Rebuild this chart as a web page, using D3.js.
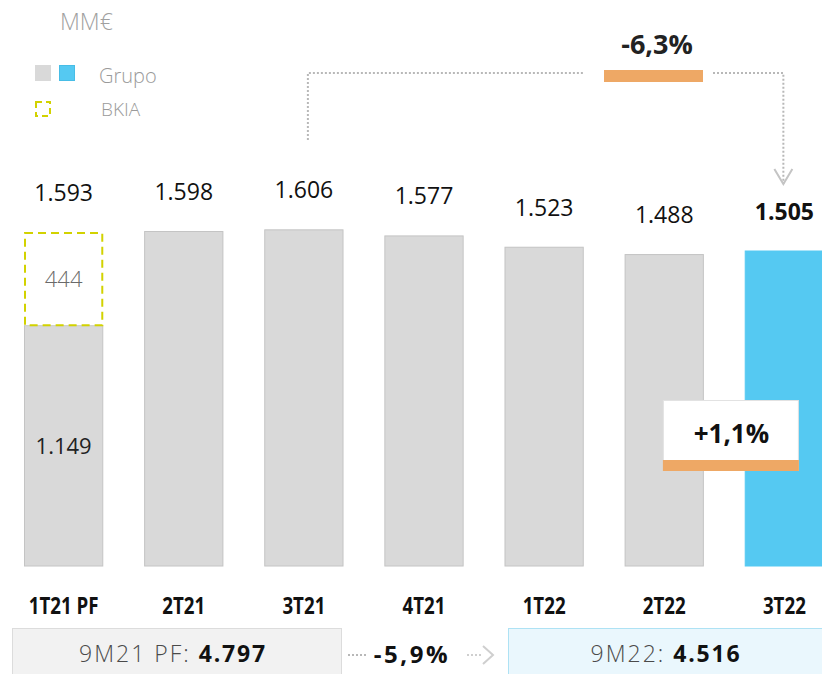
<!DOCTYPE html>
<html>
<head>
<meta charset="utf-8">
<script src="https://cdn.jsdelivr.net/npm/d3@7"></script>
<style>
  html, body { margin: 0; padding: 0; background: #fff; }
  svg { display: block; font-family: "Open Sans", "Noto Sans", sans-serif; }
</style>
</head>
<body>
<svg id="chart" width="822" height="674"></svg>
<script>
// Quarterly figures, MM€
const quarters = ["1T21 PF", "2T21", "3T21", "4T21", "1T22", "2T22", "3T22"];
const totals = [1593, 1598, 1606, 1577, 1523, 1488, 1505];
const grupoBase = [1149, 1598, 1606, 1577, 1523, 1488, 1505];
const bkiaPart = [444, 0, 0, 0, 0, 0, 0];
const totalLabels = ["1.593", "1.598", "1.606", "1.577", "1.523", "1.488", "1.505"];
const baseLabels = ["1.149"];
const bkiaLabels = ["444"];
const yoyChange = "-6,3%";
const qoqChange = "+1,1%";
const ytdPrev = { label: "9M21 PF:", value: "4.797" };
const ytdCurr = { label: "9M22:", value: "4.516" };
const ytdChange = "-5,9%";

const GRAY = "#d9d9d9", GRAY_EDGE = "#c4c4c4", CYAN = "#55c9f2", CYAN_EDGE = "#47bde6";
const ORANGE = "#eea865", YELLOW = "#d2d200", DOT = "#b8b8b8";

const svg = d3.select("#chart");

const x = d3.scaleBand().domain(quarters).range([24, 824]).paddingInner(0.34).paddingOuter(0);
const y = d3.scaleLinear().domain([0, 2700]).range([566, 0]);
const bw = x.bandwidth();
const last = quarters.length - 1;

// Unit and legend
svg.append("text").attr("x", 60).attr("y", 30).attr("font-size", 23).attr("fill", "#a0a0a0")
  .attr("font-weight", 300).text("MM€");
svg.append("rect").attr("x", 35).attr("y", 65).attr("width", 16).attr("height", 16).attr("fill", GRAY);
svg.append("rect").attr("x", 59.5).attr("y", 65.5).attr("width", 15).attr("height", 15)
  .attr("fill", CYAN).attr("stroke", CYAN_EDGE);
svg.append("text").attr("x", 99).attr("y", 83).attr("font-size", 20).attr("fill", "#9a9a9a")
  .attr("font-weight", 300).text("Grupo");
svg.append("rect").attr("x", 36).attr("y", 102).attr("width", 14).attr("height", 14)
  .attr("fill", "none").attr("stroke", YELLOW).attr("stroke-width", 2).attr("stroke-dasharray", "6,4");
svg.append("text").attr("x", 101).attr("y", 116).attr("font-size", 19).attr("fill", "#9a9a9a")
  .attr("font-weight", 300).text("BKIA");

// Bars (base group part)
const bars = svg.append("g");
bars.selectAll("rect.base").data(quarters).join("rect")
  .attr("class", "base")
  .attr("x", d => x(d) + 0.5)
  .attr("y", (d, i) => y(grupoBase[i]) + 0.5)
  .attr("width", bw - 1)
  .attr("height", (d, i) => y(0) - y(grupoBase[i]) - 0.5)
  .attr("fill", (d, i) => i === last ? CYAN : GRAY)
  .attr("stroke", (d, i) => i === last ? CYAN : GRAY_EDGE)
  .attr("stroke-width", 1);

// BKIA contribution, dashed outline stacked on top
bars.selectAll("rect.bkia").data(quarters.filter((d, i) => bkiaPart[i] > 0)).join("rect")
  .attr("class", "bkia")
  .attr("x", d => x(d) + 1)
  .attr("y", d => { const i = quarters.indexOf(d); return y(grupoBase[i] + bkiaPart[i]) + 1; })
  .attr("width", bw - 2)
  .attr("height", d => { const i = quarters.indexOf(d); return y(grupoBase[i]) - y(grupoBase[i] + bkiaPart[i]) - 1; })
  .attr("fill", "#fff")
  .attr("stroke", YELLOW).attr("stroke-width", 2).attr("stroke-dasharray", "8,5");

// Inner labels for the split bar
svg.append("text").attr("x", x(quarters[0]) + bw / 2)
  .attr("y", (y(grupoBase[0]) + y(totals[0])) / 2 + 8)
  .attr("text-anchor", "middle").attr("font-size", 22).attr("font-weight", 300).attr("fill", "#6a6a6a")
  .text(bkiaLabels[0]);
svg.append("text").attr("x", x(quarters[0]) + bw / 2)
  .attr("y", (y(0) + y(grupoBase[0])) / 2 + 8)
  .attr("text-anchor", "middle").attr("font-size", 22).attr("font-weight", 400).attr("fill", "#222")
  .text(baseLabels[0]);

// Totals above bars
svg.append("g").selectAll("text").data(quarters).join("text")
  .attr("x", d => x(d) + bw / 2)
  .attr("y", (d, i) => y(totals[i]) - 31)
  .attr("text-anchor", "middle")
  .attr("font-size", 23)
  .attr("font-weight", (d, i) => i === last ? 700 : 400)
  .attr("fill", "#111")
  .text((d, i) => totalLabels[i]);

// Category axis labels (condensed bold)
svg.append("g").selectAll("text").data(quarters).join("text")
  .attr("transform", d => `translate(${x(d) + bw / 2},614) scale(0.78,1)`)
  .attr("text-anchor", "middle")
  .attr("font-size", 24)
  .attr("font-weight", 700)
  .attr("fill", "#111")
  .text(d => d);

// Year-on-year connector: 3T21 -> 3T22
const xs = x(quarters[2]) + bw / 2 + 4, xe = x(quarters[last]) + bw / 2 - 1;
const yTop = 73;
const conn = svg.append("g").attr("fill", "none").attr("stroke", DOT).attr("stroke-width", 2)
  .attr("stroke-dasharray", "2,2");
conn.append("path").attr("d", `M${xs},140 V${yTop} H583`);
conn.append("path").attr("d", `M713,${yTop} H${xe} V184`);
svg.append("path").attr("d", `M${xe - 9},169 L${xe},184 L${xe + 9},169`)
  .attr("fill", "none").attr("stroke", "#c4c4c4").attr("stroke-width", 2);
svg.append("rect").attr("x", 604).attr("y", 70).attr("width", 99).attr("height", 12).attr("fill", ORANGE);
svg.append("text").attr("x", 657).attr("y", 54).attr("text-anchor", "middle")
  .attr("font-size", 27).attr("font-weight", 700).attr("fill", "#222").text(yoyChange);

// Quarter-on-quarter callout
const bx = x(quarters[last - 1]) + bw - 41, bwid = 135;
svg.append("rect").attr("x", bx + 0.5).attr("y", 400.5).attr("width", bwid).attr("height", 70)
  .attr("fill", "#fff").attr("stroke", "#e2e2e2");
svg.append("rect").attr("x", bx).attr("y", 460).attr("width", bwid + 1).attr("height", 11).attr("fill", ORANGE);
svg.append("text").attr("x", bx + bwid / 2 + 1).attr("y", 443).attr("text-anchor", "middle")
  .attr("font-size", 26).attr("font-weight", 700).attr("fill", "#111").text(qoqChange);

// Nine-month totals
const boxY = 628.5;
svg.append("rect").attr("x", 12.5).attr("y", boxY).attr("width", 329).attr("height", 60)
  .attr("fill", "#f2f2f2").attr("stroke", "#dcdcdc");
svg.append("rect").attr("x", 508.5).attr("y", boxY).attr("width", 330).attr("height", 60)
  .attr("fill", "#eaf7fd").attr("stroke", "#aee2f4");

function ytdText(cx, d) {
  const t = svg.append("text").attr("x", cx).attr("y", 662).attr("text-anchor", "middle")
    .attr("font-size", 23).attr("fill", "#4a4a4a");
  t.append("tspan").attr("font-weight", 300).attr("letter-spacing", 2).text(d.label + " ");
  t.append("tspan").attr("font-weight", 700).attr("fill", "#111").attr("letter-spacing", 1.8).text(d.value);
}
ytdText(173, ytdPrev);
ytdText(666, ytdCurr);

svg.append("path").attr("d", "M348,655 H366").attr("stroke", DOT).attr("stroke-width", 2)
  .attr("stroke-dasharray", "2,2");
svg.append("text").attr("x", 412).attr("y", 663).attr("text-anchor", "middle")
  .attr("font-size", 24).attr("font-weight", 700).attr("fill", "#111").attr("letter-spacing", 2.6)
  .text(ytdChange);
svg.append("path").attr("d", "M467,655 H482").attr("stroke", "#cfcfcf").attr("stroke-width", 2)
  .attr("stroke-dasharray", "2,2");
svg.append("path").attr("d", "M483,646 L493,655 L483,664").attr("fill", "none")
  .attr("stroke", "#cfcfcf").attr("stroke-width", 2);
</script>
</body>
</html>
